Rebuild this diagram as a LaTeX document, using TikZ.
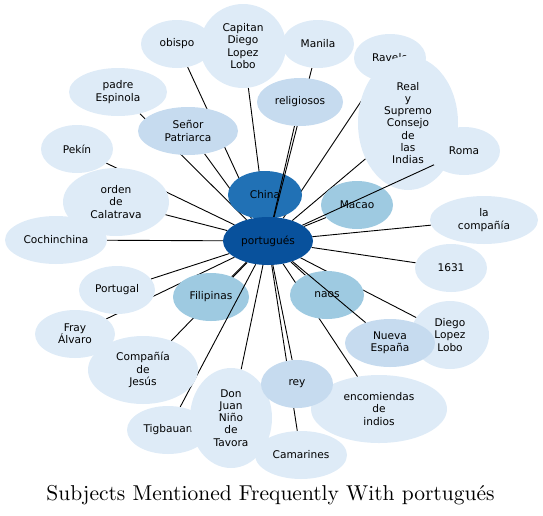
\documentclass[tikz,border=0pt]{standalone}
\usepackage{fontspec}
\usepackage{tikz}
\usetikzlibrary{shapes.geometric}
\newfontfamily\dejavu{DejaVu Sans}
\newfontfamily\titlefont{lmroman10-regular}[Extension=.otf]
\definecolor{blues1}{HTML}{DEEBF7}
\definecolor{blues2}{HTML}{C6DBEF}
\definecolor{blues3}{HTML}{9ECAE1}
\definecolor{blues5}{HTML}{2171B5}
\definecolor{blues6}{HTML}{08519C}
\tikzstyle{subj} = [ellipse, inner sep=0pt, align=center, text=black,
  font=\dejavu\fontsize{10.6}{12.2}\selectfont]
\tikzstyle{link} = [line width=0.9pt]
\tikzstyle{small} = [minimum width=72, minimum height=48]
\pgfdeclarelayer{edgelow}
\pgfdeclarelayer{nodelow}
\pgfdeclarelayer{edgehigh}
\pgfsetlayers{edgelow,nodelow,edgehigh,main}

\begin{document}
\begin{tikzpicture}[x=1pt,y=-1pt]
\useasboundingbox (0,0) rectangle (543,515);

\begin{pgfonlayer}{nodelow}
\node (rav) [subj, small, fill=blues1] at (390,58) {Ravelo};
\node (real) [subj, fill=blues1, minimum width=100, minimum height=134] at (408,123) {Real\\y\\Supremo\\Consejo\\de\\las\\Indias};
\node (chi) [subj, fill=blues5, minimum width=74, minimum height=48] at (265,195) {China};
\node (mac) [subj, small, fill=blues3] at (357,205) {Macao};
\node (fil) [subj, fill=blues3, minimum width=76, minimum height=48] at (211,297) {Filipinas};
\node (nao) [subj, fill=blues3, minimum width=74, minimum height=48] at (327,295) {naos};
\end{pgfonlayer}

\node (obi) [subj, small, fill=blues1] at (177,44) {obispo};
\node (cap) [subj, fill=blues1, minimum width=86, minimum height=84] at (243,46) {Capitan\\Diego\\Lopez\\Lobo};
\node (man) [subj, small, fill=blues1] at (318,44) {Manila};
\node (rel) [subj, fill=blues2, minimum width=86, minimum height=48] at (300,102) {religiosos};
\node (esp) [subj, fill=blues1, minimum width=98, minimum height=48] at (118,92) {padre\\Espinola};
\node (pat) [subj, fill=blues2, minimum width=100, minimum height=48] at (188,131) {Señor\\Patriarca};
\node (pek) [subj, small, fill=blues1] at (77,149) {Pekín};
\node (cal) [subj, fill=blues1, minimum width=106, minimum height=68] at (116,202) {orden\\de\\Calatrava};
\node (coc) [subj, fill=blues1, minimum width=102, minimum height=48] at (56,240) {Cochinchina};
\node (rom) [subj, small, fill=blues1] at (464,151) {Roma};
\node (cia) [subj, fill=blues1, minimum width=108, minimum height=48] at (484,220) {la\\compañía};
\node (yr) [subj, small, fill=blues1] at (451,268) {1631};
\node (dll) [subj, fill=blues1, minimum width=78, minimum height=68] at (450,335) {Diego\\Lopez\\Lobo};
\node (nue) [subj, fill=blues2, minimum width=90, minimum height=48] at (390,343) {Nueva\\España};
\node (prt) [subj, fill=blues1, minimum width=76, minimum height=48] at (117,290) {Portugal};
\node (fra) [subj, fill=blues1, minimum width=80, minimum height=48] at (75,334) {Fray\\Álvaro};
\node (jes) [subj, fill=blues1, minimum width=110, minimum height=68] at (143,370) {Compañía\\de\\Jesús};
\node (tig) [subj, fill=blues1, minimum width=82, minimum height=48] at (168,430) {Tigbauan};
\node (tav) [subj, fill=blues1, minimum width=82, minimum height=100] at (231,418) {Don\\Juan\\Niño\\de\\Tavora};
\node (cam) [subj, fill=blues1, minimum width=92, minimum height=48] at (301,455) {Camarines};
\node (enc) [subj, fill=blues1, minimum width=136, minimum height=68] at (379,409) {encomiendas\\de\\indios};
\node (rey) [subj, small, fill=blues2] at (297,384) {rey};
\node (por) [subj, fill=blues6, minimum width=90, minimum height=48] at (268,241) {portugués};

\begin{pgfonlayer}{edgelow}
\draw [link] (por) -- (obi);
\draw [link] (por) -- (cap);
\draw [link] (por) -- (rav);
\draw [link] (por) -- (real);
\draw [link] (por) -- (chi);
\draw [link] (por) -- (mac);
\draw [link] (por) -- (fil);
\draw [link] (por) -- (nao);
\draw [link] (por) -- (esp);
\draw [link] (por) -- (pat);
\draw [link] (por) -- (pek);
\draw [link] (por) -- (cal);
\draw [link] (por) -- (coc);
\draw [link] (por) -- (cia);
\draw [link] (por) -- (yr);
\draw [link] (por) -- (dll);
\draw [link] (por) -- (prt);
\draw [link] (por) -- (fra);
\draw [link] (por) -- (jes);
\draw [link] (por) -- (tav);
\draw [link] (por) -- (cam);
\draw [link] (por) -- (enc);
\draw [link] (por) -- (rey);
\end{pgfonlayer}

\begin{pgfonlayer}{edgehigh}
\draw [link] (por) -- (rel);
\draw [link] (por) -- (man);
\draw [link] (por) -- (rom);
\draw [link] (por) -- (tig);
\draw [link] (por) -- (nue);
\end{pgfonlayer}

\node (title) [anchor=base] at (270.5,500) {\titlefont\fontsize{21.5}{24}\selectfont Subjects Mentioned Frequently With portugués};
\end{tikzpicture}
\end{document}
